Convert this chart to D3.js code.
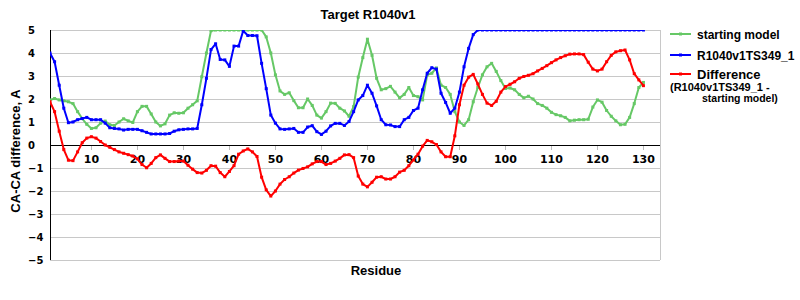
<!DOCTYPE html>
<html>
<head>
<meta charset="utf-8">
<script src="https://cdn.jsdelivr.net/npm/d3@7"></script>
<style>
  body { margin: 0; background: #fff; }
  svg { display: block; }
</style>
</head>
<body>
<div id="chart"></div>
<script>
// Values, residue 1..130
const residues = d3.range(1, 131);

const startingModel = [
  1.96, 2.02, 1.96, 1.92, 1.88, 1.8, 1.45, 1.15, 0.9, 0.72,
  0.75, 0.95, 1.04, 0.88, 0.85, 1.0, 1.14, 1.05, 0.98, 1.45,
  1.68, 1.68, 1.35, 1.0, 0.83, 0.92, 1.3, 1.4, 1.38, 1.4,
  1.6, 1.75, 1.92, 2.97, 4.0, 4.97, 5, 5, 5, 5,
  5, 5, 5, 5, 5, 5, 5, 4.7, 4.0, 3.05,
  2.35, 2.2, 2.27, 1.93, 1.62, 1.62, 2.0, 1.72, 1.3, 1.17,
  1.45, 1.82, 1.81, 1.6, 1.48, 1.25, 1.67, 2.95, 3.8, 4.6,
  3.9, 2.9, 2.4, 2.45, 2.55, 2.3, 2.05, 2.2, 2.5, 2.15,
  2.1, 1.96, 3.05, 3.12, 3.35, 2.6, 2.5, 2.2, 1.45, 1.0,
  0.85, 1.1, 1.88, 2.5, 3.05, 3.4, 3.55, 3.2, 2.8, 2.46,
  2.48, 2.4, 2.2, 2.05, 2.12, 2.0, 1.8, 1.72, 1.6, 1.42,
  1.32, 1.27, 1.2, 1.05, 1.08, 1.1, 1.1, 1.12, 1.65, 1.96,
  1.86, 1.5, 1.25, 1.05, 0.88, 0.9, 1.2, 1.8, 2.5, 2.72
];

const model349 = [
  4.0, 3.62, 2.6, 1.6, 0.97, 1.0, 1.1, 1.15, 1.2, 1.1,
  1.1, 1.1, 0.95, 0.75, 0.72, 0.7, 0.65, 0.68, 0.68, 0.68,
  0.62, 0.55, 0.48, 0.48, 0.48, 0.48, 0.5, 0.6, 0.66, 0.68,
  0.7, 0.7, 0.72, 1.75, 2.9, 4.15, 4.4, 3.72, 3.7, 3.42,
  4.3, 4.3, 4.97, 4.76, 4.76, 4.75, 3.55, 2.45, 1.3, 0.95,
  0.7, 0.68, 0.7, 0.72, 0.55, 0.55, 0.78, 0.84, 0.58, 0.46,
  0.6, 0.83, 0.94, 0.94, 0.85, 1.02, 1.45, 1.96, 2.15, 2.6,
  2.25, 1.7, 1.1, 0.88, 0.87, 0.8, 0.8, 1.1, 1.2, 1.5,
  1.6, 2.4, 3.12, 3.36, 3.3, 2.25, 1.85, 1.38, 1.6, 2.3,
  3.4, 4.2, 4.8, 5, 5, 5, 5, 5, 5, 5,
  5, 5, 5, 5, 5, 5, 5, 5, 5, 5,
  5, 5, 5, 5, 5, 5, 5, 5, 5, 5,
  5, 5, 5, 5, 5, 5, 5, 5, 5, 5
];

const difference = [
  1.88, 1.45, 0.6, -0.2, -0.66, -0.68, -0.3, 0.1, 0.3, 0.36,
  0.3, 0.15, 0, -0.1, -0.2, -0.3, -0.36, -0.42, -0.48, -0.6,
  -0.85, -0.99, -0.8, -0.55, -0.43, -0.58, -0.72, -0.72, -0.7, -0.7,
  -0.88, -1.05, -1.2, -1.22, -1.1, -0.9, -0.92, -1.2, -1.38, -1.15,
  -0.9, -0.4, -0.26, -0.17, -0.3, -0.5, -1.4, -1.95, -2.22, -2.0,
  -1.7, -1.5, -1.38, -1.22, -1.09, -1.02, -0.95, -0.82, -0.72, -0.72,
  -0.85, -0.8, -0.7, -0.58, -0.43, -0.42, -0.55, -1.35, -1.7, -1.82,
  -1.62, -1.4, -1.38, -1.48, -1.48, -1.38, -1.18, -1.1, -0.9, -0.65,
  -0.4, -0.05, 0.2, 0.14, 0.02, -0.3, -0.51, -0.51, 0.4, 1.75,
  2.6, 2.95, 3.07, 2.65, 2.2, 1.82, 1.72, 1.9, 2.3, 2.54,
  2.64, 2.75, 2.9, 2.98, 3.03, 3.1, 3.22, 3.33, 3.45, 3.58,
  3.7, 3.8, 3.88, 3.95, 3.96, 3.96, 3.93, 3.6, 3.3, 3.22,
  3.3, 3.62, 3.9, 4.05, 4.1, 4.13, 3.7, 3.1, 2.83, 2.58
];

const xTicks = [10, 20, 30, 40, 50, 60, 70, 80, 90, 100, 110, 120, 130];
const yTicks = [5, 4, 3, 2, 1, 0, -1, -2, -3, -4, -5];

const series = [
  { name: 'starting model', color: '#66c866', values: startingModel },
  { name: 'R1040v1TS349_1', color: '#0000ff', values: model349 },
  { name: 'Difference', color: '#ff0000', values: difference }
];

const width = 800, height = 300;
const plot = { left: 50, right: 660, top: 30, bottom: 260 };

let xScale = d3.scaleLinear().domain([1, 133.6]).range([plot.left, plot.right]);
let yScale = d3.scaleLinear().domain([-5, 5]).range([plot.bottom, plot.top]);

let svg = d3.select('#chart').append('svg')
  .attr('width', width)
  .attr('height', height)
  .style('font-family', 'Liberation Sans, Arial, sans-serif');

// grid lines
svg.append('g').selectAll('line')
  .data(yTicks.filter(d => d !== 0))
  .enter().append('line')
  .attr('x1', plot.left).attr('x2', plot.right)
  .attr('y1', d => yScale(d)).attr('y2', d => yScale(d))
  .attr('stroke', '#c8c8c8').attr('stroke-width', 1)
  .attr('shape-rendering', 'crispEdges');

svg.append('line')
  .attr('x1', plot.right).attr('x2', plot.right)
  .attr('y1', plot.top).attr('y2', plot.bottom)
  .attr('stroke', '#c8c8c8').attr('shape-rendering', 'crispEdges');

// x ticks hang below the zero line
svg.append('g').selectAll('line')
  .data(xTicks)
  .enter().append('line')
  .attr('x1', d => xScale(d)).attr('x2', d => xScale(d))
  .attr('y1', yScale(0)).attr('y2', yScale(0) + 5)
  .attr('stroke', '#bbbbbb').attr('shape-rendering', 'crispEdges');

svg.append('g').selectAll('text')
  .data(xTicks)
  .enter().append('text')
  .attr('x', d => xScale(d))
  .attr('y', yScale(0) + 18)
  .attr('text-anchor', 'middle')
  .style('font-family', 'DejaVu Sans')
  .style('font-weight', 'bold')
  .style('font-size', '11px')
  .text(d => d);

// y tick labels, left aligned like the original
svg.append('g').selectAll('text')
  .data(yTicks)
  .enter().append('text')
  .attr('x', 28)
  .attr('y', d => yScale(d) + 4)
  .style('font-family', 'DejaVu Sans')
  .style('font-weight', 'bold')
  .style('font-size', '10px')
  .text(d => d < 0 ? '\u2212' + Math.abs(d) : d);

// axes
svg.append('line')
  .attr('x1', plot.left).attr('x2', plot.right)
  .attr('y1', yScale(0)).attr('y2', yScale(0))
  .attr('stroke', '#000').attr('shape-rendering', 'crispEdges');
svg.append('line')
  .attr('x1', plot.left).attr('x2', plot.left)
  .attr('y1', plot.top).attr('y2', plot.bottom)
  .attr('stroke', '#000').attr('shape-rendering', 'crispEdges');

svg.append('clipPath').attr('id', 'plotClip')
  .append('rect')
  .attr('x', plot.left).attr('y', plot.top)
  .attr('width', plot.right - plot.left).attr('height', plot.bottom - plot.top);

let line = d3.line()
  .x((d, i) => xScale(residues[i]))
  .y(d => yScale(d));

let lines = svg.append('g').attr('clip-path', 'url(#plotClip)');

series.forEach(s => {
  lines.append('path')
    .datum(s.values)
    .attr('fill', 'none')
    .attr('stroke', s.color)
    .attr('stroke-width', 2)
    .attr('stroke-linejoin', 'round')
    .attr('d', line);
  lines.append('g').selectAll('rect')
    .data(s.values)
    .enter().append('rect')
    .attr('x', (d, i) => xScale(residues[i]) - 1.5)
    .attr('y', d => yScale(d) - 1.5)
    .attr('width', 3).attr('height', 3)
    .attr('fill', s.color);
});

// titles
svg.append('text')
  .attr('x', 368).attr('y', 19)
  .attr('text-anchor', 'middle')
  .style('font-weight', 'bold').style('font-size', '13px')
  .text('Target R1040v1');

svg.append('text')
  .attr('x', 376).attr('y', 275)
  .attr('text-anchor', 'middle')
  .style('font-weight', 'bold').style('font-size', '13px')
  .text('Residue');

svg.append('text')
  .attr('transform', 'translate(20,151) rotate(-90)')
  .attr('text-anchor', 'middle')
  .style('font-weight', 'bold').style('font-size', '13px')
  .text('CA-CA difference, A');

// legend
const legendY = [34, 55, 74];
let legend = svg.append('g');
series.forEach((s, i) => {
  legend.append('line')
    .attr('x1', 670).attr('x2', 691)
    .attr('y1', legendY[i]).attr('y2', legendY[i])
    .attr('stroke', s.color).attr('stroke-width', 2);
  legend.append('rect')
    .attr('x', 679).attr('y', legendY[i] - 1.5)
    .attr('width', 3).attr('height', 3)
    .attr('fill', s.color);
  legend.append('text')
    .attr('x', 697).attr('y', legendY[i] + (i === 2 ? 5 : 4.5))
    .style('font-weight', 'bold')
    .style('font-size', i === 2 ? '13px' : '12px')
    .text(s.name);
});
legend.append('text')
  .attr('x', 670).attr('y', 91)
  .style('font-weight', 'bold').style('font-size', '11px')
  .text('(R1040v1TS349_1 -');
legend.append('text')
  .attr('x', 702).attr('y', 101.5)
  .style('font-weight', 'bold').style('font-size', '10.5px')
  .text('starting model)');
</script>
</body>
</html>
